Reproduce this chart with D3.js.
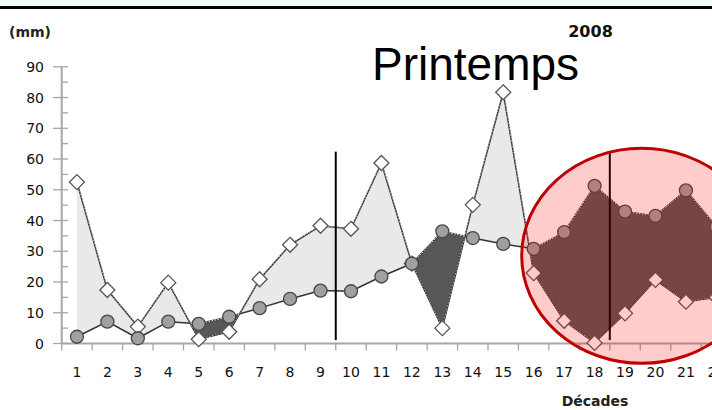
<!DOCTYPE html>
<html>
<head>
<meta charset="utf-8">
<script src="https://cdn.jsdelivr.net/npm/d3@7"></script>
<style>
  html, body { margin: 0; padding: 0; background: #fff; }
  svg { display: block; }
</style>
</head>
<body>
<svg id="chart" width="712" height="410"></svg>
<script>
// données (mm par décade)
const decades = [1, 2, 3, 4, 5, 6, 7, 8, 9, 10, 11, 12, 13, 14, 15, 16, 17, 18, 19, 20, 21, 22];
const pluie = [52.5, 17.4, 5.5, 19.8, 1.4, 3.8, 20.9, 32.1, 38.3, 37.3, 58.7, 26.0, 5.0, 45.1, 81.7, 22.9, 7.4, 0.2, 9.8, 20.7, 13.6, 15.0];
const etp = [2.2, 7.1, 1.7, 7.1, 6.4, 8.7, 11.5, 14.5, 17.2, 17.0, 21.8, 26.0, 36.5, 34.3, 32.4, 30.8, 36.2, 51.3, 42.9, 41.5, 49.8, 38.0];
const yTicks = [0, 10, 20, 30, 40, 50, 60, 70, 80, 90];
const separations = [9.5, 18.5];

const data = decades.map((d, i) => ({ d: d, p: pluie[i], e: etp[i] }));

const svg = d3.select("#chart");
const W = 712, H = 410;

// bandeau du haut
svg.append("rect").attr("x", 0).attr("y", 0).attr("width", W).attr("height", 6).attr("fill", "#f4faf4");
svg.append("rect").attr("x", 0).attr("y", 6).attr("width", W).attr("height", 3).attr("fill", "#000");

const x = d3.scaleLinear().domain([0.5, 22.5]).range([61.7, 61.7 + 22 * 30.45]);
const y = d3.scaleLinear().domain([0, 90]).range([343.5, 66.8]);

const defs = svg.append("defs");
defs.append("clipPath").attr("id", "clip-dessus")
  .append("path")
  .attr("d", d3.area().x(d => x(d.d)).y0(0).y1(d => y(d.p))(data));
defs.append("clipPath").attr("id", "clip-dessous")
  .append("path")
  .attr("d", d3.area().x(d => x(d.d)).y0(H).y1(d => y(d.p))(data));

const entre = d3.area().x(d => x(d.d)).y0(d => y(d.p)).y1(d => y(d.e));

// excédent (pluie > etp)
svg.append("path").datum(data)
  .attr("clip-path", "url(#clip-dessous)")
  .attr("fill", "#e9e9e9")
  .attr("d", entre);
// déficit (etp > pluie)
svg.append("path").datum(data)
  .attr("clip-path", "url(#clip-dessus)")
  .attr("fill", "#575757")
  .attr("d", entre);

const police = "DejaVu Sans, Verdana, sans-serif";

// axe Y
const gy = svg.append("g");
gy.append("line").attr("x1", x(0.5)).attr("x2", x(0.5)).attr("y1", y(0)).attr("y2", y(90))
  .attr("stroke", "#a6a6a6").attr("stroke-width", 2);
yTicks.forEach(t => {
  gy.append("line").attr("x1", 53).attr("x2", 68).attr("y1", y(t)).attr("y2", y(t))
    .attr("stroke", "#a6a6a6").attr("stroke-width", 1.3);
  if (t < 90) {
    gy.append("line").attr("x1", 62).attr("x2", 68).attr("y1", y(t + 5)).attr("y2", y(t + 5))
      .attr("stroke", "#a6a6a6").attr("stroke-width", 1.3);
  }
  gy.append("text").attr("x", 44).attr("y", y(t)).attr("dy", "0.36em")
    .attr("text-anchor", "end")
    .style("font-family", police).style("font-size", "14px")
    .attr("fill", "#111").text(t);
});

// axe X
const gx = svg.append("g").attr("transform", `translate(0,${y(0)})`);
gx.append("line").attr("x1", x(0.5)).attr("x2", W).attr("stroke", "#a6a6a6").attr("stroke-width", 2);
gx.selectAll("line.tick").data(d3.range(0.5, 23, 1)).enter().append("line")
  .attr("class", "tick")
  .attr("x1", d => x(d)).attr("x2", d => x(d)).attr("y1", 0).attr("y2", 7)
  .attr("stroke", "#a6a6a6").attr("stroke-width", 1.3);
gx.selectAll("text").data(decades).enter().append("text")
  .attr("x", d => x(d)).attr("y", 33)
  .attr("text-anchor", "middle")
  .style("font-family", police).style("font-size", "14px")
  .attr("fill", "#111").text(d => d);

// courbes
const ligne = key => d3.line().x(d => x(d.d)).y(d => y(d[key]));
svg.append("path").datum(data).attr("fill", "none").attr("stroke", "#333").attr("stroke-width", 1.5).attr("d", ligne("p"));
svg.append("path").datum(data).attr("fill", "none").attr("stroke", "#333").attr("stroke-width", 1.5).attr("d", ligne("e"));

// contour pointillé blanc du déficit
svg.append("path").datum(data)
  .attr("clip-path", "url(#clip-dessus)")
  .attr("fill", "none").attr("stroke", "#fff").attr("stroke-width", 1)
  .attr("stroke-dasharray", "1.5,1.5")
  .attr("d", entre);

// séparations verticales
separations.forEach(s => {
  svg.append("line").attr("x1", x(s)).attr("x2", x(s)).attr("y1", y(62.4)).attr("y2", y(1.1))
    .attr("stroke", "#000").attr("stroke-width", 2);
});

// marqueurs : losanges (pluie) puis cercles (etp) par-dessus
svg.selectAll("path.pluie").data(data).enter().append("path")
  .attr("class", "pluie")
  .attr("transform", d => `translate(${x(d.d)},${y(d.p)})`)
  .attr("d", "M0,-7.5L7.5,0L0,7.5L-7.5,0Z")
  .attr("fill", "#fff").attr("stroke", "#555").attr("stroke-width", 1.3);

svg.selectAll("circle.etp").data(data).enter().append("circle")
  .attr("class", "etp")
  .attr("cx", d => x(d.d)).attr("cy", d => y(d.e)).attr("r", 6.5)
  .attr("fill", "#a0a0a0").attr("stroke", "#474747").attr("stroke-width", 1.3);

// textes
svg.append("text").attr("x", 9).attr("y", 37)
  .style("font-family", police).style("font-size", "14px").style("font-weight", "bold")
  .attr("fill", "#222").text("(mm)");
svg.append("text").attr("x", 590.5).attr("y", 37).attr("text-anchor", "middle")
  .style("font-family", police).style("font-size", "16px").style("font-weight", "bold")
  .attr("fill", "#111").text("2008");
svg.append("text").attr("x", 595).attr("y", 406).attr("text-anchor", "middle")
  .style("font-family", police).style("font-size", "14px").style("font-weight", "bold")
  .attr("fill", "#222").text("Décades");
svg.append("text").attr("x", 372).attr("y", 80)
  .style("font-family", "Liberation Sans, Arial, sans-serif").style("font-size", "46px")
  .attr("fill", "#000").text("Printemps");

// ellipse rouge de mise en évidence
svg.append("ellipse").attr("cx", 641.7).attr("cy", 255.8).attr("rx", 120).attr("ry", 107.5)
  .attr("fill", "rgba(255,0,0,0.2)").attr("stroke", "#c00000").attr("stroke-width", 3);
</script>
</body>
</html>
